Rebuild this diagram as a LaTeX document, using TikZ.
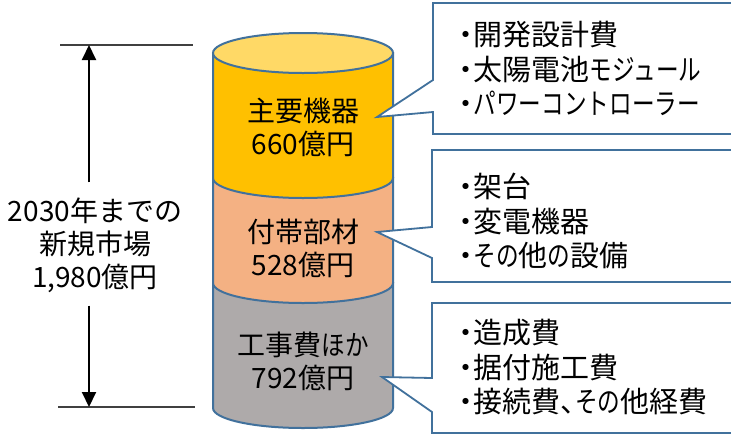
\documentclass[tikz,border=0pt]{standalone}
\usepackage{graphicx}
\usepackage{fontspec}
\setmainfont{Noto Sans CJK JP}
\newfontfamily\paltfont{Noto Sans CJK JP}[RawFeature=+palt]
\newfontfamily\fullfont{Noto Sans CJK JP}
\newcommand\kana[2][0.78]{{\fullfont\scalebox{#1}[1]{#2}}}
\usetikzlibrary{arrows.meta}
\definecolor{edgeblue}{HTML}{41719C}
\definecolor{partyellow}{HTML}{FFC000}
\definecolor{topyellow}{HTML}{FFD966}
\definecolor{partorange}{HTML}{F4B183}
\definecolor{partgray}{HTML}{AEAAAA}
\definecolor{dimgray}{HTML}{404040}

\begin{document}
\begin{tikzpicture}[x=1pt,y=-1pt,
    seg/.style={draw=edgeblue,line width=2pt},
    callout/.style={draw=edgeblue,line width=1.8pt,fill=white,line join=miter},
    lbl/.style={font=\paltfont\fontsize{28}{33}\selectfont,align=center,inner sep=0pt},
    tot/.style={font=\fontsize{28}{33}\selectfont,align=center,inner sep=0pt},
    lst/.style={font=\paltfont\fontsize{29}{34.5}\selectfont,align=left,anchor=west,inner sep=0pt},
    dim/.style={line width=2pt,-{Triangle[width=14pt,length=15pt]}}]
  \clip (0,0) rectangle (731,440);
  \fill[white] (0,0) rectangle (731,440);
  \begin{scope}[shift={(0,0)}]
    \foreach \t/\b/\c in {
      283/408/partgray,
      178/283/partorange,
      53/178/partyellow}{
        \draw[seg,fill=\c](213,\t)--(213,\b) arc[start angle=180,end angle=360,x radius=90pt,y radius=20pt]--(393,\t)--cycle;
      }
    \draw[seg,fill=topyellow](303,53) ellipse[x radius=90pt,y radius=20pt];
    \node[lbl] (main) at (303,127) {主要機器\\660億円};
    \node[lbl] (sub) at (303,248) {付帯部材\\528億円};
    \node[lbl] (work) at (303,361) {工事費\kana[0.84]{ほか}\\792億円};
  \end{scope}
  \begin{scope}[shift={(0,0)}]
    \draw[callout](433,3)--(740,3)--(740,134)--(433,134)--(433,112)--(377,117)--(433,80)--cycle;
    \draw[callout](432,150)--(740,150)--(740,282)--(432,282)--(432,258)--(377,232)--(432,227)--cycle;
    \draw[callout](432,303)--(740,303)--(740,433)--(432,433)--(432,412)--(382,377)--(432,378)--cycle;
    \node[lst] (mainlist) at (459,68.5) {・開発設計費\\・太陽電池\kana{モジュール}\\・\kana{パワーコントローラー}};
    \node[lst] (sublist) at (459,221) {・架台\\・変電機器\\・\kana{その}他\kana{の}設備};
    \node[lst] (worklist) at (459,367.5) {・造成費\\・据付施工費\\・接続費、\kana{その}他経費};
  \end{scope}
  \coordinate (dimtop) at (89,45);
  \coordinate (dimbot) at (89,407);
  \draw[dimgray,line width=1.2pt](60,45)--(193,45);
  \draw[dimgray,line width=1.2pt](58,407)--(195,407);
  \node[tot] (total) at (95,245) {2030年までの\\新規市場\\1,980億円};
  \draw[dim]([yshift=15pt]total.north -| dimtop)--(dimtop);
  \draw[dim]([yshift=-13pt]total.south -| dimbot)--(dimbot);
\end{tikzpicture}
\end{document}
